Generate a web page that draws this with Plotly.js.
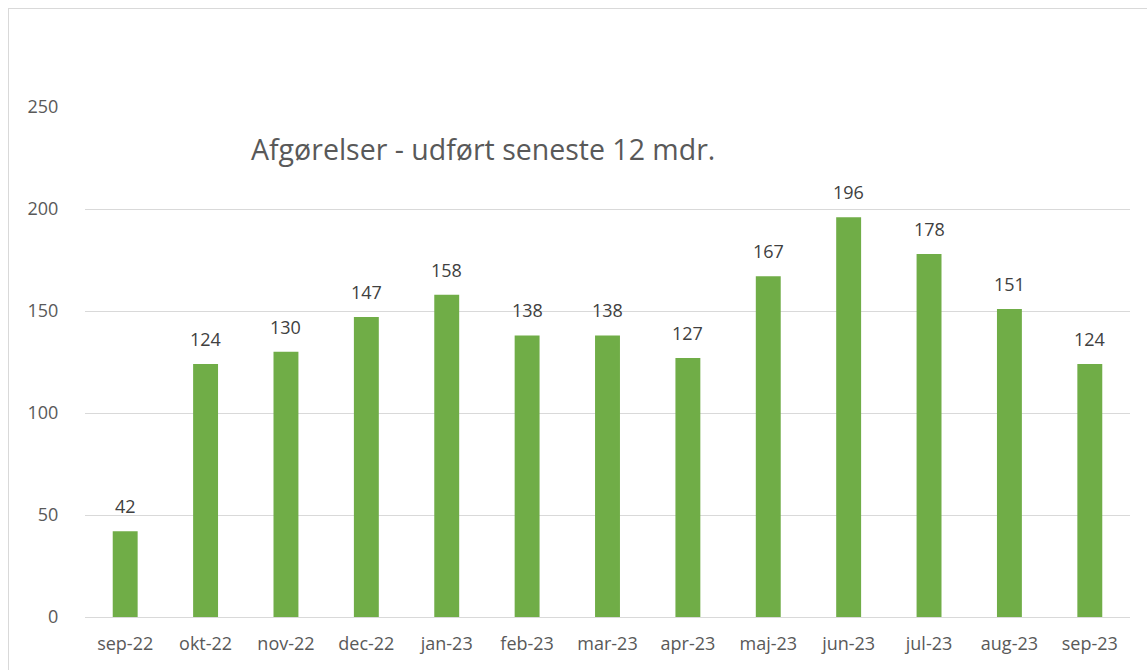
<!DOCTYPE html>
<html>
<head>
<meta charset="utf-8">
<script src="https://cdn.plot.ly/plotly-3.0.1.min.js"></script>
<style>
html,body{margin:0;padding:0;background:#fff;overflow:hidden;}
#frame{position:absolute;left:8px;top:8px;width:1160px;height:680px;border:1px solid #d9d9d9;box-sizing:border-box;}
#chart{position:absolute;left:0;top:0;width:1147px;height:670px;}
</style>
</head>
<body>
<div id="frame"></div>
<div id="chart"></div>
<script>
const categories = ["sep-22","okt-22","nov-22","dec-22","jan-23","feb-23","mar-23","apr-23","maj-23","jun-23","jul-23","aug-23","sep-23"];
const values = [42,124,130,147,158,138,138,127,167,196,178,151,124];
const yTicks = [0,50,100,150,200,250];
const chartTitle = "Afgørelser - udført seneste 12 mdr.";

const font = "Open Sans, Noto Sans, sans-serif";
const trace = {
  type: "bar",
  x: categories,
  y: values,
  marker: {color: "#70AD47"},
  width: 0.31,
  hoverinfo: "x+y"
};
const labels = categories.map((c, i) => ({
  x: c, y: values[i], xref: "x", yref: "y",
  text: String(values[i]), showarrow: false,
  yanchor: "bottom", yshift: 11,
  font: {family: font, size: 18, color: "#404040"}
}));
const layout = {
  width: 1147, height: 670,
  margin: {l: 85, r: 17, t: 107, b: 53, pad: 0},
  paper_bgcolor: "rgba(0,0,0,0)",
  plot_bgcolor: "rgba(0,0,0,0)",
  showlegend: false,
  annotations: labels,
  title: {text: chartTitle, font: {family: font, size: 28.5, color: "#595959"},
          xref: "container", yref: "container", x: 251/1147, xanchor: "left", y: 1 - 150/670, yanchor: "middle"},
  xaxis: {type: "category", tickfont: {family: font, size: 18, color: "#595959"},
          showgrid: false, showline: false, zeroline: false, ticks: "", ticklabelstandoff: 14},
  yaxis: {range: [0, 250], tickvals: yTicks, ticktext: yTicks.map(String),
          tickfont: {family: font, size: 18, color: "#595959"},
          showgrid: true, gridcolor: "#d9d9d9", gridwidth: 1,
          zeroline: true, zerolinecolor: "#d9d9d9", zerolinewidth: 1,
          showline: false, ticks: "outside", ticklen: 22, tickcolor: "rgba(0,0,0,0)"}
};
Plotly.newPlot("chart", [trace], layout, {displayModeBar: false, staticPlot: true});
</script>
</body>
</html>
